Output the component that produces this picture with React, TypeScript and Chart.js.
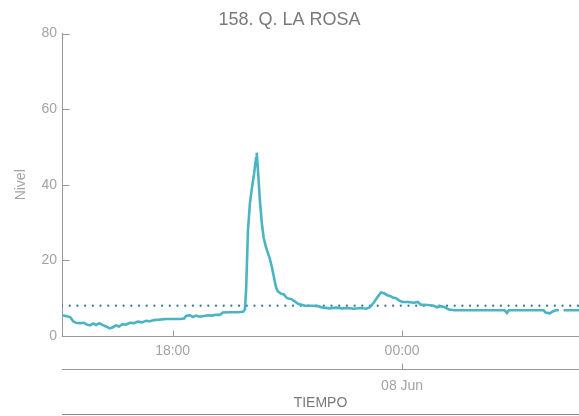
import React, { useEffect, useRef } from "react";
import { Chart, registerables } from "chart.js";

Chart.register(...registerables);

const TITLE = "158. Q. LA ROSA";
const Y_TITLE = "Nivel";
const X_TITLE = "TIEMPO";
const DATE_LABEL = "08 Jun";

// time in hours (24 = 00:00 on 08 Jun)
const X_MIN = 15.107;
const X_MAX = 28.625;
const TIME_TICKS = [18, 24];
const DATE_TICKS = [24];
const Y_TICKS = [0, 20, 40, 60, 80];
const THRESHOLD = 8;

const times = [
  15.107, 15.21, 15.32, 15.4, 15.47, 15.58, 15.68, 15.76, 15.84, 15.92, 16.0, 16.08, 16.15, 16.26,
  16.36, 16.44, 16.52, 16.6, 16.68, 16.78, 16.88, 16.99, 17.09, 17.2, 17.3, 17.41, 17.51, 17.62,
  17.72, 17.82, 17.93, 18.06, 18.19, 18.3, 18.35, 18.45, 18.53, 18.61, 18.71, 18.82, 18.92, 19.03,
  19.13, 19.24, 19.31, 19.5, 19.71, 19.84, 19.89, 19.92, 19.97, 20.02, 20.07, 20.13, 20.18, 20.2,
  20.23, 20.28, 20.33, 20.38, 20.44, 20.49, 20.54, 20.6, 20.65, 20.7, 20.75, 20.83, 20.91, 20.99,
  21.12, 21.28, 21.46, 21.64, 21.8, 21.93, 22.11, 22.27, 22.43, 22.58, 22.74, 22.9, 23.06, 23.16,
  23.27, 23.37, 23.45, 23.53, 23.61, 23.68, 23.76, 23.84, 23.92, 24.0, 24.15, 24.31, 24.41, 24.49,
  24.67, 24.83, 24.91, 25.01, 25.12, 25.22, 25.38, 25.77, 26.29, 26.68, 26.74, 26.79, 27.34, 27.7,
  27.75, 27.86, 27.94, 28.02, 28.1, 28.14, 28.22, 28.625,
];

const levels: (number | null)[] = [
  5.5, 5.3, 5.0, 3.9, 3.5, 3.4, 3.5, 3.0, 2.8, 3.3, 2.9, 3.4, 3.0, 2.5,
  2.0, 2.3, 2.8, 2.5, 3.1, 3.0, 3.5, 3.4, 3.8, 3.6, 4.0, 3.9, 4.2, 4.3,
  4.4, 4.5, 4.5, 4.5, 4.5, 4.6, 5.3, 5.5, 5.0, 5.4, 5.1, 5.3, 5.5, 5.4,
  5.6, 5.6, 6.2, 6.3, 6.3, 6.4, 7.0, 12, 28, 35, 39, 43, 47, 48.5,
  44, 36, 30, 26, 23.5, 22, 20.5, 18, 15.5, 13, 11.8, 11.2, 11.0, 10.0,
  9.7, 8.5, 8.0, 8.0, 7.9, 7.5, 7.3, 7.5, 7.3, 7.4, 7.2, 7.4, 7.2, 7.6,
  9.0, 10.5, 11.5, 11.3, 10.8, 10.6, 10.2, 10.0, 9.4, 9.0, 9.0, 8.8, 9.0, 8.3,
  8.2, 8.0, 7.6, 7.9, 7.6, 7.0, 6.8, 6.8, 6.8, 6.8, 6.1, 6.8, 6.8, 6.8,
  6.2, 6.0, 6.5, 6.8, 6.8, null, 6.8, 6.8,
];

const FONT = "'Liberation Sans', Arial, Helvetica, sans-serif";
const LINE_COLOR = "#4ab4c3";
const THRESH_COLOR = "#367f9d";
const AXIS_COLOR = "#9a9a9a";
const TEXT_COLOR = "#a3a3a3";

const fmtHour = (v: number) => {
  const h = ((Math.round(v) % 24) + 24) % 24;
  return (h < 10 ? "0" : "") + h + ":00";
};

// draws short tick marks pointing inward from each axis line
const innerTicks = {
  id: "innerTicks",
  afterDraw(chart: any) {
    const ctx = chart.ctx;
    ctx.save();
    ctx.strokeStyle = AXIS_COLOR;
    ctx.lineWidth = 1;
    const y = chart.scales.y;
    y.ticks.forEach((t: any) => {
      const py = Math.round(y.getPixelForValue(t.value)) + 0.5;
      const x0 = Math.round(y.right) + 0.5;
      ctx.beginPath();
      ctx.moveTo(x0 - 0.5, py);
      ctx.lineTo(x0 + 7, py);
      ctx.stroke();
    });
    ["x", "x2"].forEach((id) => {
      const s = chart.scales[id];
      s.ticks.forEach((t: any) => {
        const px = Math.round(s.getPixelForValue(t.value)) + 0.5;
        const y0 = Math.round(s.top) + 0.5;
        ctx.beginPath();
        ctx.moveTo(px, y0);
        ctx.lineTo(px, y0 - 6);
        ctx.stroke();
      });
    });
    ctx.restore();
  },
};

export default function App() {
  const ref = useRef<HTMLCanvasElement | null>(null);

  useEffect(() => {
    if (!ref.current) return;
    const seriesData = times.map((t, i) => ({ x: t, y: levels[i] }));
    const threshData = [
      { x: X_MIN, y: THRESHOLD },
      { x: X_MAX, y: THRESHOLD },
    ];
    const chart = new Chart(ref.current, {
      type: "line",
      data: {
        datasets: [
          {
            data: seriesData as any,
            borderColor: LINE_COLOR,
            borderWidth: 2.6,
            pointRadius: 0,
            tension: 0,
            spanGaps: false,
            order: 1,
          },
          {
            data: threshData as any,
            borderColor: THRESH_COLOR,
            borderWidth: 2.3,
            borderDash: [0, 7.7],
            borderCapStyle: "round",
            pointRadius: 0,
            order: 2,
          },
        ],
      },
      options: {
        animation: false,
        responsive: false,
        maintainAspectRatio: false,
        layout: { padding: 0 },
        plugins: {
          legend: { display: false },
          tooltip: { enabled: false },
          title: {
            display: true,
            text: TITLE,
            color: "#7a7a7a",
            font: { family: FONT, size: 18, weight: "normal" },
            padding: { top: 9, bottom: 3 },
          },
        },
        scales: {
          y: {
            type: "linear",
            min: 0,
            max: 80,
            afterBuildTicks: (s: any) => {
              s.ticks = Y_TICKS.map((v) => ({ value: v }));
            },
            afterFit: (s: any) => {
              s.width = 62;
            },
            grid: { drawOnChartArea: false, drawTicks: false },
            border: { color: AXIS_COLOR },
            ticks: { color: TEXT_COLOR, font: { family: FONT, size: 14 }, padding: 5 },
            title: {
              display: true,
              text: Y_TITLE,
              color: TEXT_COLOR,
              font: { family: FONT, size: 14 },
              padding: { top: 13, bottom: 0 },
            },
          },
          x: {
            type: "linear",
            position: "bottom",
            weight: 1,
            min: X_MIN,
            max: X_MAX,
            afterBuildTicks: (s: any) => {
              s.ticks = TIME_TICKS.map((v) => ({ value: v }));
            },
            afterFit: (s: any) => {
              s.height = 33;
            },
            grid: { drawOnChartArea: false, drawTicks: false },
            border: { color: AXIS_COLOR },
            ticks: {
              color: TEXT_COLOR,
              font: { family: FONT, size: 14 },
              padding: 6.6,
              maxRotation: 0,
              callback: (v: any) => fmtHour(Number(v)),
            },
          },
          x2: {
            type: "linear",
            position: "bottom",
            weight: 2,
            min: X_MIN,
            max: X_MAX,
            afterBuildTicks: (s: any) => {
              s.ticks = DATE_TICKS.map((v) => ({ value: v }));
            },
            afterFit: (s: any) => {
              s.height = 45;
            },
            grid: { drawOnChartArea: false, drawTicks: false },
            border: { color: AXIS_COLOR },
            ticks: {
              color: TEXT_COLOR,
              font: { family: FONT, size: 14 },
              padding: 8.6,
              maxRotation: 0,
              callback: () => DATE_LABEL,
            },
            title: {
              display: true,
              text: X_TITLE,
              color: "#7a7a7a",
              font: { family: FONT, size: 14 },
              padding: { top: 0, bottom: 2.6 },
            },
          },
          x3: {
            type: "linear",
            position: "bottom",
            weight: 3,
            min: X_MIN,
            max: X_MAX,
            afterFit: (s: any) => {
              s.height = 2;
            },
            grid: { display: false },
            border: { display: true, color: "#8a8a8a" },
            ticks: { display: false },
          },
        },
      } as any,
      plugins: [innerTicks],
    });
    return () => chart.destroy();
  }, []);

  return (
    <div style={{ position: "fixed", left: 0, top: 0, width: 579, height: 416, background: "#fff" }}>
      <canvas ref={ref} width={579} height={416} style={{ display: "block" }} />
    </div>
  );
}
